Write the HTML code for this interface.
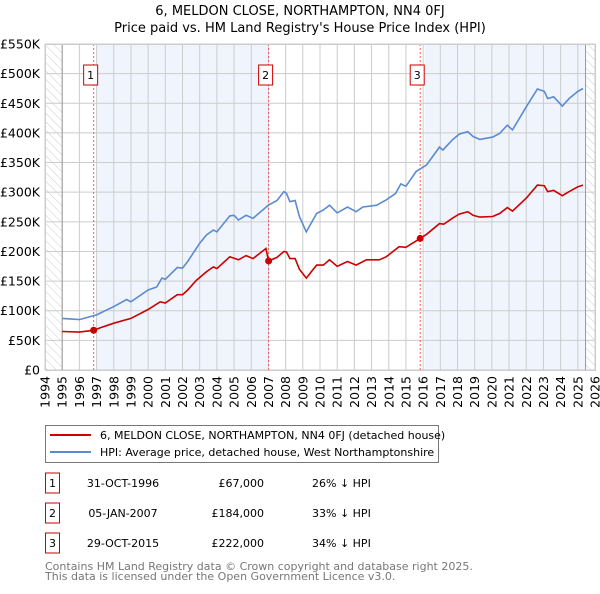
<!DOCTYPE html>
<html><head><meta charset="utf-8"><style>
body{margin:0;background:#fff;font-family:"DejaVu Sans","Liberation Sans",sans-serif;}
svg text{font-family:"DejaVu Sans","Liberation Sans",sans-serif;}
</style></head><body>
<svg id="c" width="600" height="590" xmlns="http://www.w3.org/2000/svg">
<defs><pattern id="h" width="6" height="6" patternUnits="userSpaceOnUse" patternTransform="rotate(-45)"><line x1="0" y1="0" x2="0" y2="6" stroke="#ccc" stroke-width="1"/></pattern></defs>
<text x="300" y="15" text-anchor="middle" font-size="13">6, MELDON CLOSE, NORTHAMPTON, NN4 0FJ</text>
<text x="300" y="32" text-anchor="middle" font-size="13">Price paid vs. HM Land Registry's House Price Index (HPI)</text>
<g id="plot"></g>
<g>
<rect x="45.5" y="425.5" width="393" height="37" fill="#fff" stroke="#777"/>
<line x1="50" y1="435" x2="91" y2="435" stroke="#cc0000" stroke-width="2"/>
<text x="100" y="439" font-size="11">6, MELDON CLOSE, NORTHAMPTON, NN4 0FJ (detached house)</text>
<line x1="50" y1="452" x2="91" y2="452" stroke="#5b8bd0" stroke-width="2"/>
<text x="100" y="456" font-size="11">HPI: Average price, detached house, West Northamptonshire</text>
</g>
<g id="table" font-size="11"></g>
<text x="45" y="570" font-size="11" fill="#777">Contains HM Land Registry data © Crown copyright and database right 2025.</text>
<text x="45" y="580" font-size="11" fill="#777">This data is licensed under the Open Government Licence v3.0.</text>
</svg>
<script>
const hpiYears=[1995,1996,1997,1998,1998.75,1999,2000,2000.5,2000.8,2001,2001.7,2002,2002.3,2003,2003.4,2003.8,2004,2004.75,2005,2005.25,2005.7,2006.1,2007,2007.5,2007.9,2008.05,2008.25,2008.55,2008.8,2009.2,2009.8,2010.2,2010.55,2011,2011.6,2012.1,2012.5,2013.3,2013.85,2014.4,2014.7,2015,2015.6,2016.2,2016.95,2017.15,2017.7,2018.1,2018.6,2018.9,2019.3,2020.05,2020.45,2020.9,2021.2,2022,2022.65,2023.05,2023.25,2023.6,2024.1,2024.5,2025,2025.3];
const hpiValues=[87,85,93,107,119,115,135,140,155,153,173,172,183,214,228,236,233,260,261,253,261,256,278,286,301,298,284,286,259,233,264,270,278,265,275,267,275,278,287,298,314,310,335,346,376,371,388,398,402,394,389,393,399,413,405,444,474,470,458,461,445,458,470,475];
const ppYears=[1995,1996,1996.83,1997.2,1998,1999,2000,2000.7,2001,2001.7,2002,2002.3,2002.8,2003.4,2003.8,2004,2004.75,2005.25,2005.7,2006.1,2006.85,2007.01,2007.5,2007.9,2008.05,2008.25,2008.55,2008.8,2009.2,2009.8,2010.2,2010.55,2011,2011.6,2012.1,2012.7,2013.45,2013.85,2014.6,2015,2015.83,2016.2,2016.95,2017.2,2017.7,2018.1,2018.6,2018.9,2019.3,2020.05,2020.45,2020.9,2021.2,2022,2022.65,2023.05,2023.25,2023.6,2024.1,2024.5,2025,2025.3];
const ppValues=[65,64,67,71,79,87,102,115,113,127,127,135,151,166,174,171,191,186,193,188,205,184,190,200,199,188,188,170,155,177,177,186,175,183,177,186,186,191,208,207,222,229,247,246,256,263,267,261,258,259,264,274,268,290,312,311,301,303,294,301,309,312];
const saleNums=["1","2","3"];
const saleYears=[1996.83,2007.01,2015.83];
const saleValues=[67,184,222];
const saleDates=["31-OCT-1996","05-JAN-2007","29-OCT-2015"];
const salePrices=["£67,000","£184,000","£222,000"];
const saleDiffs=["26% ↓ HPI","33% ↓ HPI","34% ↓ HPI"];
const yTicks=[0,50,100,150,200,250,300,350,400,450,500,550];
const yTickLabels=["£0","£50K","£100K","£150K","£200K","£250K","£300K","£350K","£400K","£450K","£500K","£550K"];
const xTicks=[1994,1995,1996,1997,1998,1999,2000,2001,2002,2003,2004,2005,2006,2007,2008,2009,2010,2011,2012,2013,2014,2015,2016,2017,2018,2019,2020,2021,2022,2023,2024,2025,2026];

const L=45,R=595,T=44,B=370,NS='http://www.w3.org/2000/svg';
const X=y=>L+(y-1994)*(R-L)/32;
const Y=v=>B-v*(B-T)/550;
const plot=document.getElementById('plot');
function mk(tag,a,p){const e=document.createElementNS(NS,tag);for(const k in a)e.setAttribute(k,a[k]);(p||plot).appendChild(e);return e;}
mk('rect',{x:L,y:T,width:R-L,height:B-T,fill:'#fff'});
const s1=mk('rect',{x:X(1997),y:T,width:X(2007.01)-X(1997),height:B-T,fill:'#f0f4fc'});


const s2=mk('rect',{x:X(2016.08),y:T,width:X(2025.45)-X(2016.08),height:B-T,fill:'#f0f4fc'});


const h1=mk('rect',{x:L,y:T,width:X(1995)-L,height:B-T,fill:'url(#h)'});


const h2=mk('rect',{x:X(2025.45),y:T,width:R-X(2025.45),height:B-T,fill:'url(#h)'});


yTicks.forEach((v,i)=>{
 mk('line',{x1:L,x2:R,y1:Y(v),y2:Y(v),stroke:'#ccc'});
 const t=mk('text',{x:L-5,y:Y(v)+4.5,'text-anchor':'end','font-size':12.5});t.textContent=yTickLabels[i];
 
 
});
xTicks.forEach(y=>{
 mk('line',{x1:X(y),x2:X(y),y1:T,y2:B,stroke:'#ccc'});
 const t=mk('text',{x:0,y:0,'text-anchor':'end','font-size':12.5,transform:`translate(${X(y)+4.5},${B+6}) rotate(-90)`});t.textContent=y;
 
 
});
mk('line',{x1:X(1995),x2:X(1995),y1:T,y2:B,stroke:'#999'});
mk('line',{x1:X(2025.45),x2:X(2025.45),y1:T,y2:B,stroke:'#999'});
saleYears.forEach((y,i)=>{
 const l=mk('line',{x1:X(y),x2:X(y),y1:T,y2:B,stroke:'#f06060','stroke-dasharray':'2,2'});
 
 
 const r=mk('rect',{x:X(y)-10,y:65,width:14,height:20,fill:'#fff',stroke:'#cc0000'});
 
 
 const t=mk('text',{x:X(y)-3,y:79,'text-anchor':'middle','font-size':11});t.textContent=saleNums[i];
});
const pts=(xs,vs)=>xs.map((y,i)=>X(y).toFixed(1)+','+Y(vs[i]).toFixed(1)).join(' ');
const hl=mk('polyline',{points:pts(hpiYears,hpiValues),fill:'none',stroke:'#5b8bd0','stroke-width':1.6});


const pl=mk('polyline',{points:pts(ppYears,ppValues),fill:'none',stroke:'#cc0000','stroke-width':1.6});


saleYears.forEach((y,i)=>{
 const c=mk('circle',{cx:X(y),cy:Y(saleValues[i]),r:3.5,fill:'#cc0000'});
 
 
});
mk('rect',{x:L+0.5,y:T+0.5,width:R-L,height:B-T,fill:'none',stroke:'#ccc'});
const tb=document.getElementById('table');
saleNums.forEach((n,i)=>{
 const cy=483+i*30;
 const r=mk('rect',{x:45.5,y:cy-10,width:14,height:20,fill:'#fff',stroke:'#cc0000'},tb);
 
 
 const a=mk('text',{x:52.5,y:cy+4,'text-anchor':'middle'},tb);a.textContent=n;
 const d=mk('text',{x:123,y:cy+4,'text-anchor':'middle'},tb);d.textContent=saleDates[i];
 
 
 const p=mk('text',{x:264,y:cy+4,'text-anchor':'end'},tb);p.textContent=salePrices[i];
 
 
 const h=mk('text',{x:312,y:cy+4},tb);h.textContent=saleDiffs[i];
 
 
});
</script>
</body></html>
